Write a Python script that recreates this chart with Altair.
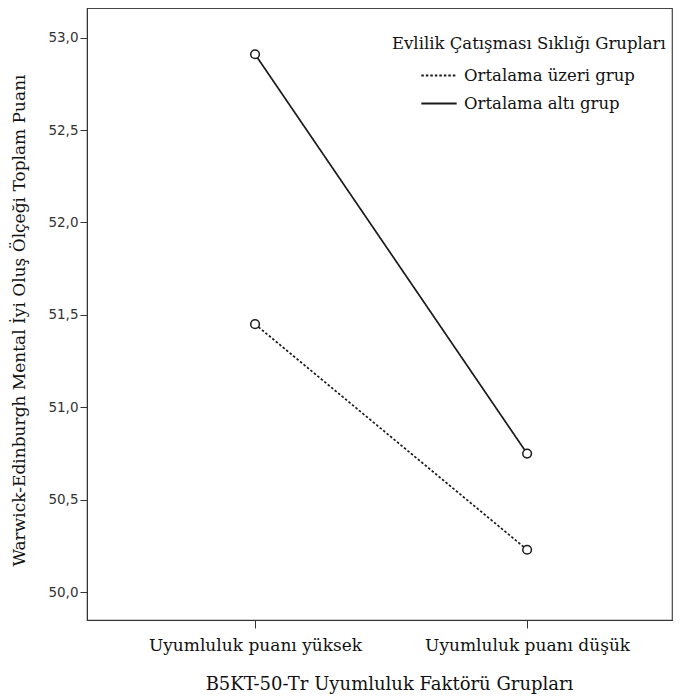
import altair as alt
import pandas as pd

categories = ["Uyumluluk puanı yüksek", "Uyumluluk puanı düşük"]
groups = ["Ortalama üzeri grup", "Ortalama altı grup"]
above_values = [51.45, 50.23]
below_values = [52.91, 50.75]
y_ticks = [50.0, 50.5, 51.0, 51.5, 52.0, 52.5, 53.0]

rows = []
for c, v in zip(categories, above_values):
    rows.append({"cat": c, "grp": groups[0], "val": v})
for c, v in zip(categories, below_values):
    rows.append({"cat": c, "grp": groups[1], "val": v})
df = pd.DataFrame(rows)

SERIF = "DejaVu Serif"

x = alt.X("cat:N", sort=categories,
          scale=alt.Scale(type="point", padding=0.575, align=0.537),
          axis=alt.Axis(title="B5KT-50-Tr Uyumluluk Faktörü Grupları", labelAngle=0,
                        labelFont=SERIF, labelFontSize=17, labelColor="#111",
                        labelLimit=0, titleX=302,
                        titleFont=SERIF, titleFontSize=18, titleFontWeight="normal",
                        titleColor="#111", titlePadding=22, labelPadding=9,
                        tickSize=8, tickColor="#333", domainColor="#333", grid=False))
y = alt.Y("val:Q", scale=alt.Scale(domain=[49.85, 53.16], nice=False, zero=False),
          axis=alt.Axis(title="Warwick-Edinburgh Mental İyi Oluş Ölçeği Toplam Puanı",
                        values=y_ticks,
                        labelExpr="replace(format(datum.value, '.1f'), '.', ',')",
                        labelFont="DejaVu Sans", labelFontSize=13.5, labelColor="#333",
                        titleFont=SERIF, titleFontSize=17, titleFontWeight="normal",
                        titleColor="#111", titlePadding=19, labelPadding=2,
                        titleLimit=0, titleY=312,
                        tickSize=7, tickColor="#333", domainColor="#333", grid=False))

lines = alt.Chart(df).mark_line(color="#1a1a1a", strokeWidth=1.7).encode(
    x=x, y=y,
    strokeDash=alt.StrokeDash("grp:N", sort=groups,
        scale=alt.Scale(domain=groups, range=[[2.5, 2], [1, 0]]),
        legend=alt.Legend(title="Evlilik Çatışması Sıklığı Grupları", orient="none",
                          legendX=305, legendY=28, symbolType="stroke",
                          symbolSize=1250, symbolStrokeWidth=1.9,
                          symbolStrokeColor="#1a1a1a", symbolOffset=28,
                          labelFont=SERIF, labelFontSize=16.5, labelColor="#111",
                          labelLimit=0, titleLimit=0,
                          titleFont=SERIF, titleFontSize=16.5, titleFontWeight="normal",
                          titleColor="#111", titlePadding=4, rowPadding=0,
                          padding=0, labelOffset=6))
)

points = alt.Chart(df).mark_point(shape="circle", filled=True, fill="white",
                                  stroke="#1a1a1a", strokeWidth=1.5, size=75,
                                  opacity=1).encode(x=x, y=y, detail="grp:N")

chart = alt.layer(lines, points).properties(
    width=585, height=612,
    autosize=alt.AutoSizeParams(type="none"),
    padding={"left": 79, "top": 0, "right": 6, "bottom": 80},
    background="white",
).configure_view(stroke="#444", strokeWidth=1.2)

chart.save("out.html", embed_options={"renderer": "svg", "actions": False})
